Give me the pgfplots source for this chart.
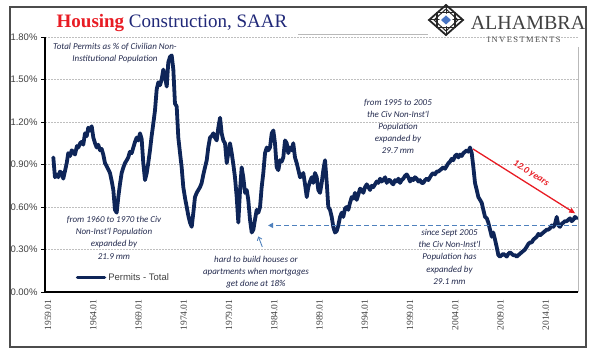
\documentclass[border=0pt]{standalone}
\usepackage{pgfplots}
\pgfplotsset{compat=1.18}
\usepackage{pgfplotstable}
\usepackage{fontspec}
\setmainfont{Liberation Sans}
\newfontfamily\serf{Liberation Serif}
\newfontfamily\calib{Carlito}
\usetikzlibrary{arrows.meta}
\definecolor{navyline}{RGB}{14,37,88}
\definecolor{titlered}{RGB}{232,28,36}
\definecolor{titleblue}{RGB}{32,40,120}
\definecolor{annot}{RGB}{35,42,78}
\definecolor{arrowblue}{RGB}{79,129,189}
\definecolor{labgray}{RGB}{64,64,64}

\pgfplotstableread{
x v
1959.59 0.95
1959.77 0.81
1960.00 0.83
1960.14 0.81
1960.33 0.85
1960.51 0.84
1960.69 0.80
1960.90 0.86
1961.07 0.91
1961.24 0.98
1961.45 0.96
1961.62 1.00
1961.80 0.99
1961.98 0.97
1962.20 1.03
1962.35 1.02
1962.55 1.05
1962.72 1.06
1962.90 1.04
1963.09 1.12
1963.28 1.10
1963.45 1.16
1963.63 1.14
1963.83 1.17
1964.01 1.09
1964.20 1.05
1964.38 1.02
1964.55 1.04
1964.75 1.00
1964.93 1.01
1965.11 0.97
1965.30 0.91
1965.55 0.88
1965.85 0.84
1966.05 0.78
1966.22 0.72
1966.40 0.58
1966.59 0.56
1966.77 0.67
1966.95 0.76
1967.14 0.84
1967.33 0.88
1967.51 0.91
1967.70 0.93
1967.87 0.95
1968.05 0.99
1968.25 0.98
1968.43 1.02
1968.62 1.06
1968.80 1.09
1968.98 1.07
1969.17 1.12
1969.35 1.08
1969.53 0.91
1969.72 0.79
1969.91 0.84
1970.10 0.92
1970.27 1.00
1970.45 1.10
1970.64 1.19
1970.82 1.28
1971.01 1.43
1971.19 1.48
1971.38 1.46
1971.56 1.50
1971.74 1.57
1971.93 1.52
1972.12 1.45
1972.29 1.62
1972.48 1.66
1972.67 1.67
1972.85 1.57
1973.03 1.33
1973.22 1.31
1973.40 1.09
1973.59 0.98
1973.77 0.88
1973.95 0.74
1974.15 0.66
1974.33 0.60
1974.50 0.54
1974.69 0.49
1974.88 0.46
1975.06 0.56
1975.24 0.67
1975.43 0.70
1975.61 0.72
1975.80 0.74
1975.98 0.77
1976.17 0.83
1976.35 0.88
1976.54 0.93
1976.71 1.02
1976.90 1.09
1977.08 1.10
1977.27 1.12
1977.45 1.09
1977.64 1.07
1977.82 1.16
1978.01 1.23
1978.19 1.12
1978.37 1.07
1978.56 1.05
1978.75 0.91
1978.92 0.98
1979.11 1.05
1979.30 0.98
1979.48 0.90
1979.66 0.81
1979.85 0.67
1980.03 0.49
1980.22 0.72
1980.40 0.88
1980.58 0.81
1980.77 0.70
1980.96 0.72
1981.13 0.65
1981.32 0.51
1981.51 0.42
1981.69 0.44
1981.87 0.51
1982.06 0.58
1982.24 0.56
1982.43 0.60
1982.61 0.74
1982.79 0.84
1982.98 0.98
1983.17 1.02
1983.34 1.00
1983.53 1.02
1983.72 1.12
1983.90 1.14
1984.08 1.05
1984.27 0.88
1984.45 0.86
1984.64 0.93
1984.82 0.92
1985.00 0.95
1985.19 1.07
1985.38 1.05
1985.55 0.98
1985.74 1.02
1985.93 1.00
1986.10 1.05
1986.29 0.95
1986.48 0.91
1986.67 0.86
1986.85 0.81
1987.03 0.82
1987.21 0.84
1987.40 0.76
1987.59 0.67
1987.76 0.74
1987.95 0.78
1988.14 0.81
1988.31 0.77
1988.50 0.84
1988.69 0.81
1988.87 0.72
1989.06 0.70
1989.24 0.77
1989.42 0.86
1989.61 0.93
1989.80 0.77
1989.97 0.60
1990.16 0.58
1990.35 0.53
1990.52 0.46
1990.71 0.42
1990.90 0.43
1991.08 0.47
1991.27 0.53
1991.45 0.56
1991.63 0.53
1991.82 0.59
1992.01 0.60
1992.18 0.58
1992.37 0.63
1992.56 0.67
1992.75 0.66
1992.92 0.70
1993.11 0.65
1993.30 0.69
1993.48 0.73
1993.66 0.72
1993.84 0.70
1994.03 0.74
1994.22 0.76
1994.40 0.74
1994.58 0.72
1994.76 0.75
1994.94 0.74
1995.13 0.76
1995.32 0.78
1995.50 0.77
1995.69 0.80
1995.87 0.78
1996.05 0.79
1996.25 0.81
1996.43 0.77
1996.60 0.79
1996.79 0.79
1996.97 0.77
1997.15 0.76
1997.35 0.79
1997.53 0.78
1997.72 0.80
1997.90 0.77
1998.08 0.79
1998.26 0.80
1998.45 0.82
1998.64 0.83
1998.82 0.81
1999.00 0.78
1999.18 0.80
1999.37 0.79
1999.55 0.81
1999.74 0.80
1999.92 0.78
2000.10 0.79
2000.29 0.77
2000.47 0.77
2000.66 0.79
2000.85 0.80
2001.03 0.79
2001.21 0.81
2001.40 0.83
2001.57 0.84
2001.76 0.83
2001.95 0.85
2002.13 0.85
2002.32 0.86
2002.50 0.87
2002.68 0.88
2002.87 0.87
2003.06 0.89
2003.24 0.91
2003.42 0.92
2003.60 0.94
2003.78 0.93
2003.97 0.96
2004.16 0.97
2004.34 0.95
2004.53 0.97
2004.71 0.96
2004.89 0.98
2005.08 0.99
2005.27 1.00
2005.45 0.99
2005.63 1.02
2005.82 0.98
2006.00 0.88
2006.18 0.77
2006.37 0.72
2006.55 0.67
2006.74 0.65
2006.92 0.63
2007.10 0.58
2007.29 0.53
2007.48 0.52
2007.65 0.49
2007.84 0.44
2008.03 0.39
2008.20 0.42
2008.39 0.37
2008.57 0.32
2008.76 0.26
2008.94 0.25
2009.13 0.26
2009.31 0.27
2009.50 0.26
2009.68 0.25
2009.87 0.27
2010.05 0.28
2010.23 0.27
2010.41 0.26
2010.60 0.26
2010.79 0.25
2010.97 0.26
2011.15 0.27
2011.33 0.28
2011.52 0.29
2011.70 0.30
2011.90 0.32
2012.08 0.34
2012.27 0.35
2012.45 0.35
2012.63 0.37
2012.82 0.38
2013.00 0.39
2013.18 0.41
2013.37 0.40
2013.55 0.41
2013.73 0.42
2013.92 0.43
2014.10 0.44
2014.28 0.44
2014.47 0.45
2014.65 0.47
2014.84 0.46
2015.02 0.48
2015.21 0.53
2015.39 0.47
2015.57 0.46
2015.75 0.48
2015.94 0.49
2016.12 0.50
2016.31 0.50
2016.49 0.51
2016.67 0.52
2016.86 0.50
2017.04 0.51
2017.22 0.53
2017.41 0.52
}\permits

\begin{document}
\begin{tikzpicture}[x=1pt,y=1pt]
\path[use as bounding box] (0,0) rectangle (600,356);
% outer frame
\draw[black!70, line width=1.2pt] (10,9) rectangle (586,349);
% plot area top / right borders
\draw[gray!55, line width=0.8pt] (298,322) -- (428,322);
\draw[gray!55, line width=0.8pt] (578,309) -- (578,64);
\begin{axis}[
  at={(45pt,64pt)}, anchor=south west,
  width=533pt, height=255pt, scale only axis,
  xmin=1958.67, xmax=2017.56,
  ymin=0, ymax=1.8,
  axis lines*=left,
  x axis line style={black, line width=2.6pt},
  y axis line style={black, line width=1pt},
  ytick={0,0.3,0.6,0.9,1.2,1.5,1.8},
  yticklabels={0.00\%,0.30\%,0.60\%,0.90\%,1.20\%,1.50\%,1.80\%},
  xtick={1959,1964,1969,1974,1979,1984,1989,1994,1999,2004,2009,2014},
  xticklabels={1959.01,1964.01,1969.01,1974.01,1979.01,1984.01,1989.01,1994.01,1999.01,2004.01,2009.01,2014.01},
  tick align=outside,
  major tick length=4pt,
  ytick style={black, line width=0.6pt},
  xtick style={draw=none},
  yticklabel style={font=\fontsize{9.5}{11}\selectfont, text=labgray},
  xticklabel style={font=\fontsize{9.5}{11}\selectfont\serf, text=labgray, rotate=90, anchor=east},
  ymajorgrids,
  grid style={gray!50, line width=0.7pt, dash pattern=on 1.5pt off 1.5pt},
  legend style={at={(axis cs:1962.05,0.101)}, anchor=west, draw=none, fill=none,
    inner sep=0pt, font=\fontsize{9.5}{11}\selectfont, text=labgray},
  legend cell align=left,
  legend image code/.code={\draw[#1, line width=3.5pt] (0pt,0pt) -- (27pt,0pt);},
]
\addplot[navyline, line width=3.8pt, line join=round, line cap=round] table[x=x,y=v] {\permits};
\addlegendentry{Permits - Total}
% red arrow
\draw[titlered, line width=1.3pt, -{Triangle[length=6pt,width=5pt]}]
  (axis cs:2005.95,1.01) -- (axis cs:2017.25,0.555);
% blue dashed arrow
\draw[arrowblue, line width=1.3pt, dash pattern=on 5pt off 3pt, -{Triangle[length=5pt,width=5pt]}]
  (axis cs:2017.4,0.47) -- (axis cs:1983.31,0.47);
% small arrow
\draw[arrowblue, line width=0.9pt, -{Straight Barb[length=3pt,width=5pt]}]
  (axis cs:1982.68,0.318) -- (axis cs:1982.24,0.392);
\end{axis}
% title
\node at (172,333) {\fontsize{19}{22}\selectfont\serf\textcolor{titlered}{\bfseries Housing} \textcolor{titleblue}{Construction, SAAR}};
% logo
\begin{scope}[shift={(446,336)}]
  \draw[black!85, line width=1.8pt] (0,15) -- (17,0) -- (0,-15) -- (-17,0) -- cycle;
  \draw[black!85, line width=1.2pt] (-9,-7.5) rectangle (9,7.5);
  \draw[black!85, line width=1.0pt] (0,15) -- (0,-15) (-17,0) -- (17,0);
  \draw[black!85, line width=1.0pt] (0,11) -- (12,0) -- (0,-11) -- (-12,0) -- cycle;
  \fill[white] (0,6.5) -- (7,0) -- (0,-6.5) -- (-7,0) -- cycle;
  \fill[arrowblue!90!blue] (0,4.5) -- (5,0) -- (0,-4.5) -- (-5,0) -- cycle;
\end{scope}
\node[text=black!75] at (528,333) {\fontsize{20}{22}\selectfont\serf ALHAMBRA};
\node[text=black!70] at (524,316) {\fontsize{8.5}{10}\selectfont\serf I\,N\,V\,E\,S\,T\,M\,E\,N\,T\,S};
% annotations
\node[align=center, text=annot, font=\fontsize{9}{12}\selectfont\calib\itshape] at (115,303)
  {Total Permits as \% of Civilian Non-\\Institutional Population};
\node[align=center, text=annot, font=\fontsize{9}{12.3}\selectfont\calib\itshape] at (114,118.25)
  {from 1960 to 1970 the Civ\\Non-Inst'l Population\\expanded by\\21.9 mm};
\node[align=center, text=annot, font=\fontsize{9}{12}\selectfont\calib\itshape] at (256,84)
  {hard to build houses or\\apartments when mortgages\\get done at 18\%};
\node[align=center, text=annot, font=\fontsize{9}{12}\selectfont\calib\itshape] at (398,229.2)
  {from 1995 to 2005\\the Civ Non-Inst'l\\Population\\expanded by\\29.7 mm};
\node[align=center, text=annot, font=\fontsize{9}{12.3}\selectfont\calib\itshape] at (449.5,99.2)
  {since Sept 2005\\the Civ Non-Inst'l\\Population has\\expanded by\\29.1 mm};
\node[rotate=-32.3, inner sep=0pt, text=titlered, font=\fontsize{9.5}{11}\selectfont\calib\bfseries\itshape] at (531,182.5)
  {12.0 years};
\end{tikzpicture}
\end{document}
